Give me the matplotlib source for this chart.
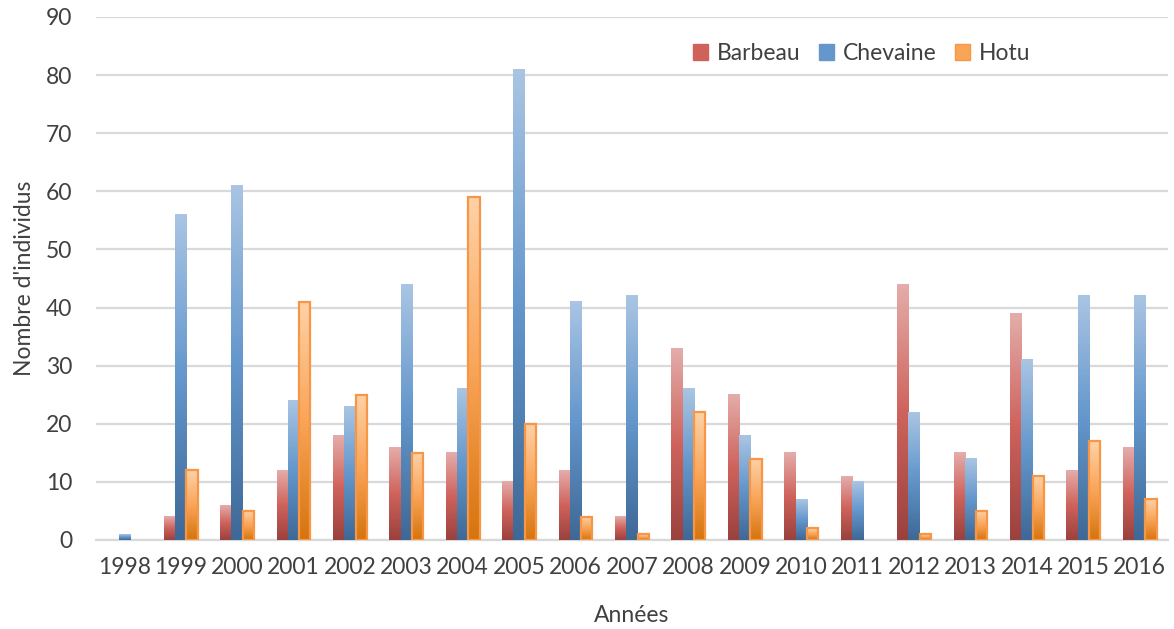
import numpy as np
import matplotlib
matplotlib.use("Agg")
import matplotlib.pyplot as plt
from matplotlib.colors import LinearSegmentedColormap
from matplotlib.patches import Patch

annees = ["1998", "1999", "2000", "2001", "2002", "2003", "2004", "2005", "2006", "2007",
          "2008", "2009", "2010", "2011", "2012", "2013", "2014", "2015", "2016"]
barbeau = [0, 4, 6, 12, 18, 16, 15, 10, 12, 4, 33, 25, 15, 11, 44, 15, 39, 12, 16]
chevaine = [1, 56, 61, 24, 23, 44, 26, 81, 41, 42, 26, 18, 7, 10, 22, 14, 31, 42, 42]
hotu = [0, 12, 5, 41, 25, 15, 59, 20, 4, 1, 22, 14, 2, 0, 1, 5, 11, 17, 7]

series = [
    ("Barbeau", barbeau, ["#9a413e", "#cf635c", "#e4adab"], None),
    ("Chevaine", chevaine, ["#3e6896", "#6497cc", "#aac5e3"], None),
    ("Hotu", hotu, ["#d6740d", "#f9a558", "#fdd2a8"], "#f79646"),
]

plt.rcParams["font.family"] = ["Lato", "DejaVu Sans"]
txt = "#404040"
fs = 16.5

fig = plt.figure(figsize=(11.74, 6.29), dpi=100)
ax = fig.add_axes([0.0818, 0.1415, 0.913, 0.8315])

x = np.arange(len(annees))
w = 0.2
grad = np.linspace(0, 1, 256).reshape(-1, 1)

handles = []
for i, (name, vals, stops, edge) in enumerate(series):
    cmap = LinearSegmentedColormap.from_list(name, stops)
    bars = ax.bar(x + (i - 1) * w, vals, width=w, facecolor="none",
                  edgecolor="none", linewidth=0, zorder=4)
    for b in bars:
        h = b.get_height()
        if h <= 0:
            continue
        if edge:
            b.set_edgecolor(edge)
            b.set_linewidth(1.6)
        ax.imshow(grad, cmap=cmap, origin="lower", aspect="auto",
                  extent=(b.get_x(), b.get_x() + b.get_width(), 0, h), zorder=3)
    handles.append(Patch(facecolor=stops[1], edgecolor=edge if edge else stops[1],
                         label=name))

ax.set_xlim(-0.5, len(annees) - 0.5)
ax.set_ylim(0, 90)
ax.set_yticks(np.arange(0, 91, 10))
ax.set_xticks(x)
ax.set_xticklabels(annees)
ax.tick_params(length=0, labelsize=fs, colors=txt, pad=12)
ax.tick_params(axis="y", pad=17)
ax.grid(axis="y", color="#d9d9d9", linewidth=1.6, zorder=0)
ax.set_axisbelow(True)
for s in ["top", "right", "left"]:
    ax.spines[s].set_visible(False)
ax.spines["bottom"].set_color("#d9d9d9")
ax.spines["bottom"].set_linewidth(1.6)

ax.set_xlabel("Années", fontsize=fs, color=txt, labelpad=20)
ax.set_ylabel("Nombre d'individus", fontsize=fs, color=txt, labelpad=8)

fig.legend(handles=handles, loc="center", bbox_to_anchor=(0.734, 0.915), ncol=3,
           frameon=False, fontsize=fs, handlelength=0.65, handleheight=0.65,
           handletextpad=0.4, columnspacing=0.8, labelcolor=txt)

fig.savefig("out.png", dpi=100)
